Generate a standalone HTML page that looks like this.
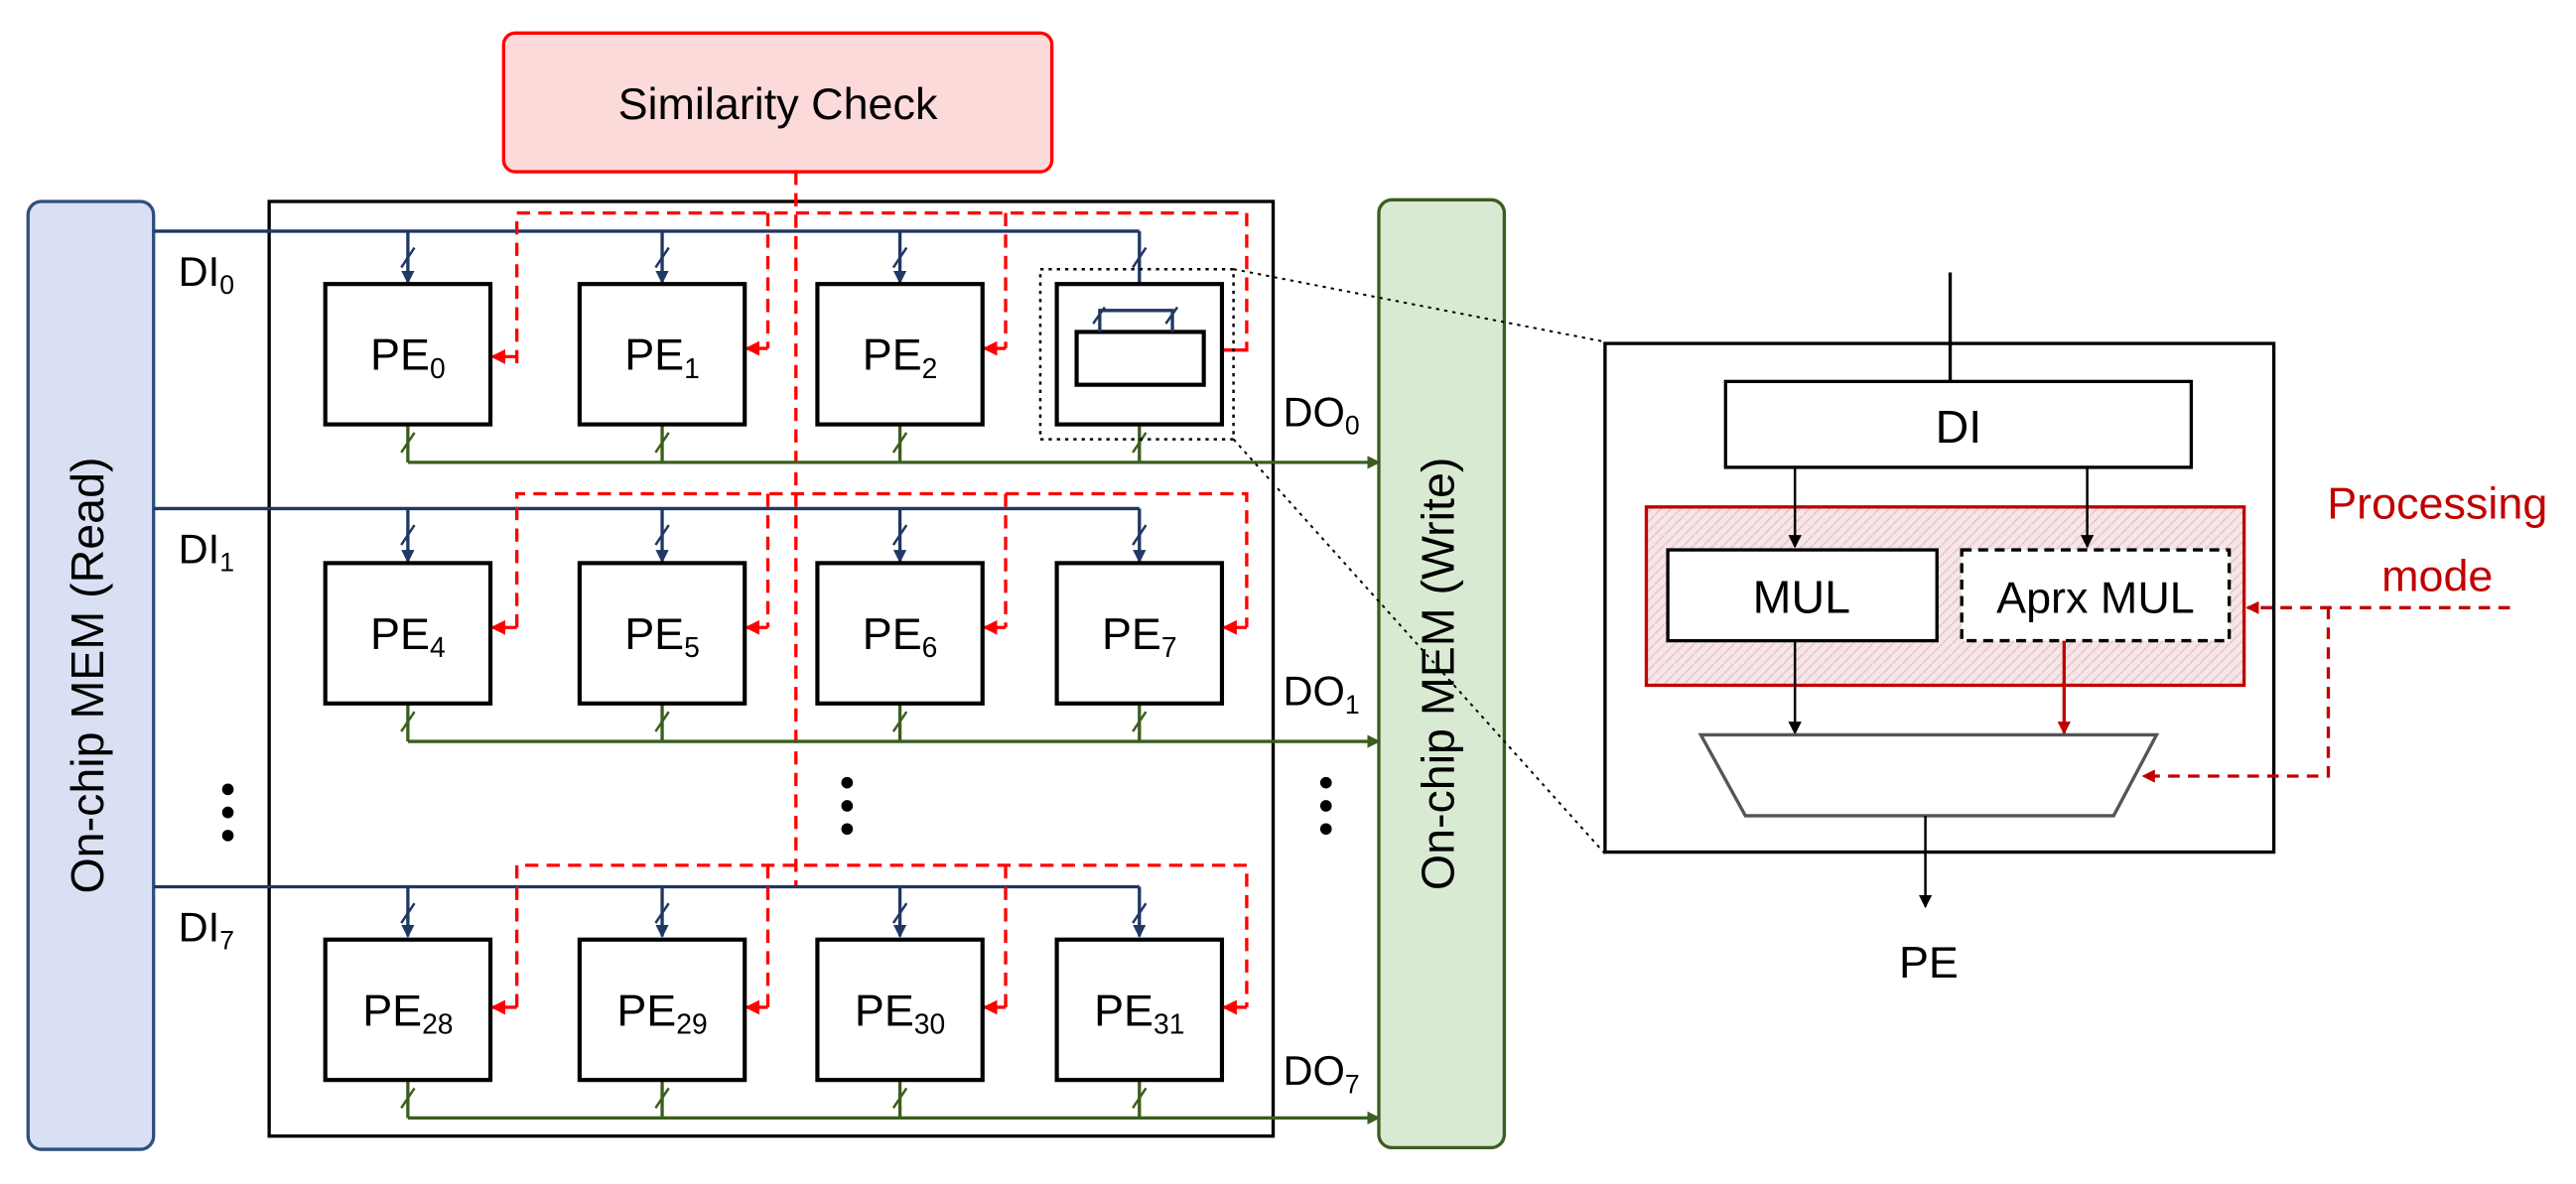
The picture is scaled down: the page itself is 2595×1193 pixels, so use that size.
<!DOCTYPE html>
<html><head><meta charset="utf-8"><style>
html,body{margin:0;padding:0;background:#fff;}
svg{display:block;}
text{font-family:"Liberation Sans",sans-serif;}
</style></head><body>
<svg width="2595" height="1193" viewBox="0 0 1560 717" preserveAspectRatio="none" xmlns="http://www.w3.org/2000/svg">
<defs>
<marker id="ab" markerWidth="8" markerHeight="8" refX="7" refY="4" orient="auto" markerUnits="userSpaceOnUse"><path d="M0,0 L8,4 L0,8 z" fill="#1f3864"/></marker>
<marker id="ag" markerWidth="8" markerHeight="8" refX="7" refY="4" orient="auto" markerUnits="userSpaceOnUse"><path d="M0,0 L8,4 L0,8 z" fill="#3b5e1f"/></marker>
<marker id="ar" markerWidth="9" markerHeight="9" refX="8" refY="4.5" orient="auto" markerUnits="userSpaceOnUse"><path d="M0,0 L9,4.5 L0,9 z" fill="#ff0000"/></marker>
<marker id="ar2" markerWidth="8" markerHeight="8" refX="7" refY="4" orient="auto" markerUnits="userSpaceOnUse"><path d="M0,0 L8,4 L0,8 z" fill="#c00000"/></marker>
<marker id="ak" markerWidth="8" markerHeight="8" refX="7" refY="4" orient="auto" markerUnits="userSpaceOnUse"><path d="M0,0 L8,4 L0,8 z" fill="#000"/></marker>
<pattern id="hat" width="6" height="6" patternUnits="userSpaceOnUse"><rect width="6" height="6" fill="#f6e6e8"/><path d="M0,6 L6,0" stroke="#e6c6ca" stroke-width="1"/></pattern>
</defs>

<!-- Read MEM -->
<rect x="17" y="122" width="76" height="574" rx="8" fill="#dae0f3" stroke="#2f4f7f" stroke-width="2"/>
<text x="55" y="409" font-size="28" text-anchor="middle" transform="rotate(-90 55 409)" dominant-baseline="middle">On-chip MEM (Read)</text>
<!-- Write MEM -->
<rect x="835" y="121" width="76" height="574" rx="8" fill="#d9ead3" stroke="#3b5e1f" stroke-width="2"/>
<text x="873" y="408" font-size="28" text-anchor="middle" transform="rotate(-90 873 408)" dominant-baseline="middle">On-chip MEM (Write)</text>
<!-- main box -->
<rect x="163" y="122" width="608" height="566" fill="none" stroke="#000" stroke-width="2"/>
<!-- Similarity -->
<rect x="305" y="20" width="332" height="84" rx="7" fill="#fddada" stroke="#ff0000" stroke-width="2"/>
<text x="471" y="72" font-size="27" text-anchor="middle">Similarity Check</text>
<line x1="482" y1="104" x2="482" y2="537" stroke="#ff0000" stroke-width="2" stroke-dasharray="8,5"/>

<!-- rows -->
<g id="rows">
<!-- row generic drawn explicitly -->
</g>
<g stroke-width="2" fill="none">
<!-- Row 1 -->
<polyline points="93,140 690,140" stroke="#1f3864"/>
<polyline points="313,220 313,129 755,129 755,212 733,212" stroke="#ff0000" stroke-dasharray="8,5"/>
<!-- Row 2 -->
<polyline points="93,308 690,308" stroke="#1f3864"/>
<polyline points="313,380 313,299 755,299 755,380" stroke="#ff0000" stroke-dasharray="8,5"/>
<!-- Row 3 -->
<polyline points="93,537 690,537" stroke="#1f3864"/>
<polyline points="313,610 313,524 755,524 755,610" stroke="#ff0000" stroke-dasharray="8,5"/>
</g>

<!-- Row helper content -->
<g stroke-width="2" fill="none">
<!-- row1 vertical red -->
<line x1="465" y1="129" x2="465" y2="211" stroke="#ff0000" stroke-dasharray="8,5"/>
<line x1="609" y1="129" x2="609" y2="211" stroke="#ff0000" stroke-dasharray="8,5"/>
<line x1="465" y1="299" x2="465" y2="380" stroke="#ff0000" stroke-dasharray="8,5"/>
<line x1="609" y1="299" x2="609" y2="380" stroke="#ff0000" stroke-dasharray="8,5"/>
<line x1="465" y1="524" x2="465" y2="610" stroke="#ff0000" stroke-dasharray="8,5"/>
<line x1="609" y1="524" x2="609" y2="610" stroke="#ff0000" stroke-dasharray="8,5"/>
</g>
<g stroke="#ff0000" stroke-width="2" fill="none" marker-end="url(#ar)">
<line x1="313" y1="216" x2="298" y2="216"/>
<line x1="465" y1="211" x2="452" y2="211"/>
<line x1="609" y1="211" x2="596" y2="211"/>
<line x1="755" y1="212" x2="731" y2="212"/>
<line x1="313" y1="380" x2="298" y2="380"/>
<line x1="465" y1="380" x2="452" y2="380"/>
<line x1="609" y1="380" x2="596" y2="380"/>
<line x1="755" y1="380" x2="741" y2="380"/>
<line x1="313" y1="610" x2="298" y2="610"/>
<line x1="465" y1="610" x2="452" y2="610"/>
<line x1="609" y1="610" x2="596" y2="610"/>
<line x1="755" y1="610" x2="741" y2="610"/>
</g>

<!-- blue drops -->
<g stroke="#1f3864" stroke-width="2" marker-end="url(#ab)">
<line x1="247" y1="140" x2="247" y2="171"/><line x1="401" y1="140" x2="401" y2="171"/><line x1="545" y1="140" x2="545" y2="171"/><line x1="690" y1="140" x2="690" y2="185"/>
<line x1="247" y1="308" x2="247" y2="340"/><line x1="401" y1="308" x2="401" y2="340"/><line x1="545" y1="308" x2="545" y2="340"/><line x1="690" y1="308" x2="690" y2="340"/>
<line x1="247" y1="537" x2="247" y2="567"/><line x1="401" y1="537" x2="401" y2="567"/><line x1="545" y1="537" x2="545" y2="567"/><line x1="690" y1="537" x2="690" y2="567"/>
</g>
<g stroke="#1f3864" stroke-width="1.5">
<line x1="243" y1="162" x2="251" y2="150"/><line x1="397" y1="162" x2="405" y2="150"/><line x1="541" y1="162" x2="549" y2="150"/><line x1="686" y1="162" x2="694" y2="150"/>
<line x1="243" y1="330" x2="251" y2="318"/><line x1="397" y1="330" x2="405" y2="318"/><line x1="541" y1="330" x2="549" y2="318"/><line x1="686" y1="330" x2="694" y2="318"/>
<line x1="243" y1="559" x2="251" y2="547"/><line x1="397" y1="559" x2="405" y2="547"/><line x1="541" y1="559" x2="549" y2="547"/><line x1="686" y1="559" x2="694" y2="547"/>
</g>

<!-- green outputs -->
<g stroke="#3b5e1f" stroke-width="2" fill="none">
<line x1="247" y1="257" x2="247" y2="280"/><line x1="401" y1="257" x2="401" y2="280"/><line x1="545" y1="257" x2="545" y2="280"/><line x1="690" y1="257" x2="690" y2="280"/>
<line x1="247" y1="426" x2="247" y2="449"/><line x1="401" y1="426" x2="401" y2="449"/><line x1="545" y1="426" x2="545" y2="449"/><line x1="690" y1="426" x2="690" y2="449"/>
<line x1="247" y1="654" x2="247" y2="677"/><line x1="401" y1="654" x2="401" y2="677"/><line x1="545" y1="654" x2="545" y2="677"/><line x1="690" y1="654" x2="690" y2="677"/>
<line x1="247" y1="280" x2="835" y2="280" marker-end="url(#ag)"/>
<line x1="247" y1="449" x2="835" y2="449" marker-end="url(#ag)"/>
<line x1="247" y1="677" x2="835" y2="677" marker-end="url(#ag)"/>
</g>
<g stroke="#3b5e1f" stroke-width="1.5">
<line x1="243" y1="274" x2="251" y2="262"/><line x1="397" y1="274" x2="405" y2="262"/><line x1="541" y1="274" x2="549" y2="262"/><line x1="686" y1="274" x2="694" y2="262"/>
<line x1="243" y1="443" x2="251" y2="431"/><line x1="397" y1="443" x2="405" y2="431"/><line x1="541" y1="443" x2="549" y2="431"/><line x1="686" y1="443" x2="694" y2="431"/>
<line x1="243" y1="671" x2="251" y2="659"/><line x1="397" y1="671" x2="405" y2="659"/><line x1="541" y1="671" x2="549" y2="659"/><line x1="686" y1="671" x2="694" y2="659"/>
</g>

<!-- PE boxes -->
<g fill="#fff" stroke="#000" stroke-width="2.5">
<rect x="197" y="172" width="100" height="85"/><rect x="351" y="172" width="100" height="85"/><rect x="495" y="172" width="100" height="85"/><rect x="640" y="172" width="100" height="85"/>
<rect x="197" y="341" width="100" height="85"/><rect x="351" y="341" width="100" height="85"/><rect x="495" y="341" width="100" height="85"/><rect x="640" y="341" width="100" height="85"/>
<rect x="197" y="569" width="100" height="85"/><rect x="351" y="569" width="100" height="85"/><rect x="495" y="569" width="100" height="85"/><rect x="640" y="569" width="100" height="85"/>
<rect x="652" y="201" width="77" height="32"/>
</g>
<g stroke="#1f3864" stroke-width="2" fill="none">
<polyline points="666,201 666,188 710,188 710,201"/>
<line x1="662" y1="196" x2="669" y2="186" stroke-width="1.5"/><line x1="706" y1="196" x2="713" y2="186" stroke-width="1.5"/>
</g>
<rect x="630" y="163" width="117" height="103" fill="none" stroke="#000" stroke-width="1.5" stroke-dasharray="2,3"/>
<line x1="747" y1="163" x2="972" y2="207" stroke="#000" stroke-width="1.2" stroke-dasharray="2,3"/>
<line x1="747" y1="266" x2="972" y2="517" stroke="#000" stroke-width="1.2" stroke-dasharray="2,3"/>

<!-- PE labels -->
<g font-size="27" text-anchor="middle">
<text x="247" y="224">PE<tspan font-size="17" dy="5">0</tspan></text>
<text x="401" y="224">PE<tspan font-size="17" dy="5">1</tspan></text>
<text x="545" y="224">PE<tspan font-size="17" dy="5">2</tspan></text>
<text x="247" y="393">PE<tspan font-size="17" dy="5">4</tspan></text>
<text x="401" y="393">PE<tspan font-size="17" dy="5">5</tspan></text>
<text x="545" y="393">PE<tspan font-size="17" dy="5">6</tspan></text>
<text x="690" y="393">PE<tspan font-size="17" dy="5">7</tspan></text>
<text x="247" y="621">PE<tspan font-size="17" dy="5">28</tspan></text>
<text x="401" y="621">PE<tspan font-size="17" dy="5">29</tspan></text>
<text x="545" y="621">PE<tspan font-size="17" dy="5">30</tspan></text>
<text x="690" y="621">PE<tspan font-size="17" dy="5">31</tspan></text>
</g>
<g font-size="25">
<text x="108" y="173">DI<tspan font-size="16" dy="5">0</tspan></text>
<text x="108" y="341">DI<tspan font-size="16" dy="5">1</tspan></text>
<text x="108" y="570">DI<tspan font-size="16" dy="5">7</tspan></text>
<text x="777" y="258">DO<tspan font-size="16" dy="5">0</tspan></text>
<text x="777" y="427">DO<tspan font-size="16" dy="5">1</tspan></text>
<text x="777" y="657">DO<tspan font-size="16" dy="5">7</tspan></text>
</g>
<!-- dots -->
<g fill="#000">
<circle cx="138" cy="478" r="3.5"/><circle cx="138" cy="492" r="3.5"/><circle cx="138" cy="506" r="3.5"/>
<circle cx="513" cy="474" r="3.5"/><circle cx="513" cy="488" r="3.5"/><circle cx="513" cy="502" r="3.5"/>
<circle cx="803" cy="474" r="3.5"/><circle cx="803" cy="488" r="3.5"/><circle cx="803" cy="502" r="3.5"/>
</g>

<!-- Right detail -->
<rect x="972" y="208" width="405" height="308" fill="#fff" stroke="#000" stroke-width="2"/>
<line x1="1181" y1="165" x2="1181" y2="231" stroke="#000" stroke-width="2"/>
<rect x="1045" y="231" width="282" height="52" fill="#fff" stroke="#000" stroke-width="2"/>
<text x="1186" y="268" font-size="28" text-anchor="middle">DI</text>
<rect x="997" y="307" width="362" height="108" fill="url(#hat)" stroke="#c00000" stroke-width="2"/>
<line x1="1087" y1="283" x2="1087" y2="331" stroke="#000" stroke-width="1.5" marker-end="url(#ak)"/>
<line x1="1264" y1="283" x2="1264" y2="331" stroke="#000" stroke-width="1.5" marker-end="url(#ak)"/>
<rect x="1010" y="333" width="163" height="55" fill="#fff" stroke="#000" stroke-width="2"/>
<text x="1091" y="371" font-size="28" text-anchor="middle">MUL</text>
<rect x="1188" y="333" width="162" height="55" fill="#fff" stroke="#000" stroke-width="2" stroke-dasharray="6,4"/>
<text x="1269" y="371" font-size="27" text-anchor="middle">Aprx MUL</text>
<line x1="1087" y1="388" x2="1087" y2="444" stroke="#000" stroke-width="1.5" marker-end="url(#ak)"/>
<line x1="1250" y1="388" x2="1250" y2="444" stroke="#c00000" stroke-width="2" marker-end="url(#ar2)"/>
<polygon points="1030,445 1306,445 1280,494 1057,494" fill="#fff" stroke="#555" stroke-width="2"/>
<line x1="1166" y1="494" x2="1166" y2="549" stroke="#000" stroke-width="1.5" marker-end="url(#ak)"/>
<text x="1168" y="592" font-size="27" text-anchor="middle">PE</text>
<text x="1476" y="314" font-size="27" text-anchor="middle" fill="#c00000">Processing</text>
<text x="1476" y="358" font-size="27" text-anchor="middle" fill="#c00000">mode</text>
<g stroke="#c00000" stroke-width="2" fill="none" stroke-dasharray="7,5">
<line x1="1520" y1="368" x2="1361" y2="368" marker-end="url(#ar2)"/>
<polyline points="1410,368 1410,470 1298,470" marker-end="url(#ar2)"/>
</g>
</svg>
</body></html>
